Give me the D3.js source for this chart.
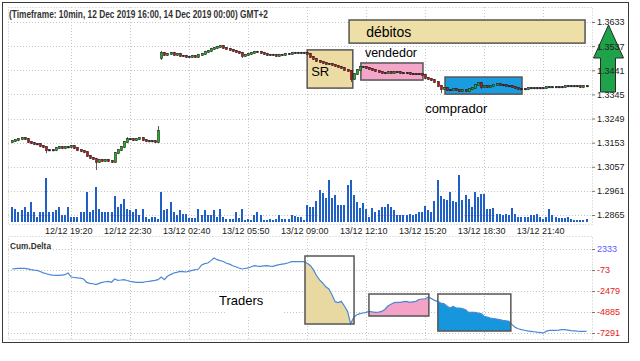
<!DOCTYPE html>
<html><head><meta charset="utf-8">
<script src="https://cdn.jsdelivr.net/npm/d3@7"></script>
<style>body{margin:0;background:#fff}svg{display:block}</style>
</head><body><svg id="c" width="640" height="361"></svg>
<script>
// ---------- DATA ----------
const titleText = "(Timeframe: 10min, 12 Dec 2019 16:00, 14 Dec 2019 00:00) GMT+2";
const timeLabels = ["12/12 19:20","12/12 22:30","13/12 02:40","13/12 05:50","13/12 09:00","13/12 12:10","13/12 15:20","13/12 18:30","13/12 21:40"];
const timeLabelBars = [19,38,57,76,95,114,133,152,171];
const priceTicks = [1.3633,1.3537,1.3441,1.3345,1.3249,1.3153,1.3057,1.2961,1.2865];
const deltaTicks = [2333,-73,-2479,-4885,-7291];

const opens = [
1.3155,1.3159,1.3163,1.3167,1.3171,1.3167,1.3155,1.3151,1.3147,1.3147,
1.3139,1.3135,1.3123,1.3123,1.3123,1.3131,1.3135,1.3131,1.3135,1.3135,
1.3139,1.3131,1.3123,1.3119,1.3115,1.3100,1.3092,1.3088,1.3076,1.3084,
1.3080,1.3084,1.3080,1.3076,1.3111,1.3123,1.3135,1.3155,1.3167,1.3167,
1.3163,1.3167,1.3171,1.3163,1.3159,1.3159,1.3159,1.3155,1.3490,1.3510,
1.3502,1.3506,1.3510,1.3502,1.3506,1.3498,1.3498,1.3494,1.3494,1.3498,
1.3494,1.3502,1.3506,1.3514,1.3518,1.3526,1.3530,1.3533,1.3537,1.3530,
1.3526,1.3522,1.3518,1.3514,1.3510,1.3498,1.3502,1.3506,1.3510,1.3514,
1.3514,1.3510,1.3506,1.3502,1.3502,1.3502,1.3498,1.3502,1.3502,1.3506,
1.3506,1.3510,1.3510,1.3510,1.3510,1.3510,1.3506,1.3494,1.3486,1.3478,
1.3474,1.3470,1.3466,1.3466,1.3462,1.3458,1.3454,1.3450,1.3442,1.3438,
1.3406,1.3426,1.3442,1.3454,1.3454,1.3450,1.3446,1.3442,1.3438,1.3434,
1.3430,1.3430,1.3434,1.3430,1.3434,1.3434,1.3430,1.3430,1.3430,1.3426,
1.3426,1.3426,1.3426,1.3422,1.3410,1.3406,1.3402,1.3394,1.3378,1.3366,
1.3370,1.3362,1.3362,1.3366,1.3362,1.3358,1.3362,1.3358,1.3366,1.3370,
1.3382,1.3390,1.3374,1.3378,1.3374,1.3378,1.3382,1.3386,1.3382,1.3382,
1.3378,1.3378,1.3374,1.3370,1.3366,1.3366,1.3366,1.3370,1.3370,1.3370,
1.3370,1.3370,1.3370,1.3374,1.3374,1.3374,1.3374,1.3374,1.3374,1.3378,
1.3378,1.3378,1.3378,1.3378,1.3374,1.3378];
const highs = [
1.3163,1.3167,1.3171,1.3175,1.3175,1.3171,1.3159,1.3155,1.3151,1.3151,
1.3143,1.3139,1.3127,1.3127,1.3135,1.3139,1.3139,1.3139,1.3139,1.3143,
1.3143,1.3135,1.3127,1.3123,1.3119,1.3104,1.3096,1.3092,1.3088,1.3088,
1.3088,1.3088,1.3084,1.3115,1.3127,1.3139,1.3159,1.3175,1.3171,1.3171,
1.3171,1.3175,1.3175,1.3167,1.3163,1.3163,1.3163,1.3219,1.3518,1.3514,
1.3510,1.3514,1.3514,1.3510,1.3510,1.3502,1.3502,1.3498,1.3502,1.3502,
1.3506,1.3510,1.3518,1.3522,1.3530,1.3533,1.3537,1.3541,1.3541,1.3533,
1.3530,1.3526,1.3522,1.3518,1.3514,1.3506,1.3510,1.3514,1.3518,1.3518,
1.3518,1.3514,1.3510,1.3506,1.3506,1.3506,1.3506,1.3506,1.3510,1.3510,
1.3514,1.3514,1.3514,1.3514,1.3514,1.3514,1.3510,1.3498,1.3490,1.3482,
1.3478,1.3474,1.3470,1.3470,1.3466,1.3462,1.3458,1.3454,1.3446,1.3442,
1.3430,1.3446,1.3458,1.3458,1.3458,1.3454,1.3450,1.3446,1.3442,1.3438,
1.3434,1.3438,1.3438,1.3438,1.3438,1.3438,1.3434,1.3434,1.3434,1.3430,
1.3430,1.3430,1.3430,1.3426,1.3414,1.3410,1.3406,1.3398,1.3382,1.3374,
1.3374,1.3366,1.3370,1.3370,1.3366,1.3366,1.3366,1.3370,1.3374,1.3386,
1.3394,1.3394,1.3382,1.3382,1.3382,1.3386,1.3390,1.3390,1.3386,1.3386,
1.3382,1.3382,1.3378,1.3374,1.3370,1.3370,1.3374,1.3374,1.3374,1.3374,
1.3374,1.3374,1.3378,1.3378,1.3378,1.3378,1.3378,1.3378,1.3382,1.3382,
1.3382,1.3382,1.3382,1.3382,1.3382,1.3382];
const lows = [
1.3151,1.3155,1.3159,1.3163,1.3163,1.3151,1.3147,1.3143,1.3143,1.3135,
1.3131,1.3111,1.3119,1.3119,1.3119,1.3127,1.3127,1.3127,1.3131,1.3131,
1.3127,1.3119,1.3115,1.3111,1.3096,1.3088,1.3084,1.3044,1.3072,1.3076,
1.3076,1.3076,1.3072,1.3072,1.3107,1.3119,1.3131,1.3151,1.3163,1.3159,
1.3159,1.3163,1.3159,1.3155,1.3155,1.3155,1.3151,1.3151,1.3482,1.3498,
1.3498,1.3502,1.3498,1.3498,1.3494,1.3494,1.3490,1.3490,1.3490,1.3490,
1.3490,1.3498,1.3502,1.3510,1.3514,1.3522,1.3526,1.3530,1.3526,1.3522,
1.3518,1.3514,1.3510,1.3506,1.3490,1.3494,1.3498,1.3502,1.3506,1.3510,
1.3506,1.3502,1.3498,1.3498,1.3498,1.3494,1.3494,1.3498,1.3498,1.3502,
1.3502,1.3506,1.3506,1.3506,1.3506,1.3502,1.3490,1.3482,1.3474,1.3470,
1.3466,1.3462,1.3462,1.3458,1.3454,1.3450,1.3446,1.3438,1.3434,1.3394,
1.3402,1.3422,1.3438,1.3450,1.3446,1.3442,1.3438,1.3434,1.3430,1.3426,
1.3426,1.3426,1.3426,1.3426,1.3430,1.3426,1.3426,1.3426,1.3422,1.3422,
1.3422,1.3422,1.3418,1.3406,1.3402,1.3398,1.3390,1.3374,1.3350,1.3362,
1.3358,1.3358,1.3358,1.3358,1.3354,1.3354,1.3354,1.3354,1.3362,1.3366,
1.3378,1.3366,1.3370,1.3370,1.3370,1.3374,1.3378,1.3378,1.3378,1.3374,
1.3374,1.3370,1.3366,1.3362,1.3362,1.3362,1.3362,1.3366,1.3366,1.3366,
1.3366,1.3366,1.3366,1.3370,1.3370,1.3370,1.3370,1.3370,1.3370,1.3374,
1.3374,1.3374,1.3374,1.3370,1.3370,1.3374];
const closes = [
1.3159,1.3163,1.3167,1.3171,1.3167,1.3155,1.3151,1.3147,1.3147,1.3139,
1.3135,1.3123,1.3123,1.3123,1.3131,1.3135,1.3131,1.3135,1.3135,1.3139,
1.3131,1.3123,1.3119,1.3115,1.3100,1.3092,1.3088,1.3076,1.3084,1.3080,
1.3084,1.3080,1.3076,1.3111,1.3123,1.3135,1.3155,1.3167,1.3167,1.3163,
1.3167,1.3171,1.3163,1.3159,1.3159,1.3159,1.3155,1.3199,1.3510,1.3502,
1.3506,1.3510,1.3502,1.3506,1.3498,1.3498,1.3494,1.3494,1.3498,1.3494,
1.3502,1.3506,1.3514,1.3518,1.3526,1.3530,1.3533,1.3537,1.3530,1.3526,
1.3522,1.3518,1.3514,1.3510,1.3498,1.3502,1.3506,1.3510,1.3514,1.3514,
1.3510,1.3506,1.3502,1.3502,1.3502,1.3498,1.3502,1.3502,1.3506,1.3506,
1.3510,1.3510,1.3510,1.3510,1.3510,1.3506,1.3494,1.3486,1.3478,1.3474,
1.3470,1.3466,1.3466,1.3462,1.3458,1.3454,1.3450,1.3442,1.3438,1.3406,
1.3426,1.3442,1.3454,1.3454,1.3450,1.3446,1.3442,1.3438,1.3434,1.3430,
1.3430,1.3434,1.3430,1.3434,1.3434,1.3430,1.3430,1.3430,1.3426,1.3426,
1.3426,1.3426,1.3422,1.3410,1.3406,1.3402,1.3394,1.3378,1.3366,1.3370,
1.3362,1.3362,1.3366,1.3362,1.3358,1.3362,1.3358,1.3366,1.3370,1.3382,
1.3390,1.3374,1.3378,1.3374,1.3378,1.3382,1.3386,1.3382,1.3382,1.3378,
1.3378,1.3374,1.3370,1.3366,1.3366,1.3366,1.3370,1.3370,1.3370,1.3370,
1.3370,1.3370,1.3374,1.3374,1.3374,1.3374,1.3374,1.3374,1.3378,1.3378,
1.3378,1.3378,1.3378,1.3374,1.3378,1.3378];
const volumes = [
300,260,200,240,300,200,400,200,100,200,
200,880,200,200,240,300,140,140,300,100,
100,100,200,200,600,200,240,700,260,200,
200,200,200,520,300,360,460,260,240,200,
260,140,260,100,60,100,100,60,600,240,
260,400,200,140,240,160,160,80,80,80,
260,140,240,140,140,240,100,260,100,60,
60,60,200,80,260,40,60,40,140,200,
140,40,40,60,40,60,140,60,60,60,
140,120,100,100,40,340,300,300,420,640,
580,480,840,480,540,340,340,340,740,840,
540,400,280,380,260,100,280,200,240,300,
300,360,300,240,140,140,140,140,160,140,
160,200,200,320,240,200,420,840,520,460,
440,600,420,400,940,440,540,460,300,600,
500,560,560,260,260,280,160,160,140,160,
140,280,160,100,100,100,100,140,140,160,
100,60,100,260,140,100,80,80,80,100,
60,40,40,40,40,60];
const cumDelta = [
40,80,118,120,118,60,-35,-80,-111,-250,
-400,-500,-600,-650,-680,-690,-650,-608,-420,-875,
-930,-980,-1000,-1104,-1490,-1600,-1650,-1750,-1600,-1490,
-1420,-1370,-1480,-1110,-1250,-1220,-1180,-1280,-1370,-1430,
-1490,-1490,-1480,-1420,-1370,-1310,-1257,-1180,-875,-1180,
-800,-600,-420,-350,-230,-260,-300,-200,-110,-40,
42,500,650,730,1000,1300,1110,1000,900,700,
600,420,300,150,42,100,160,300,424,380,
347,400,424,380,347,450,538,600,653,760,
880,882,882,880,882,700,450,-35,-700,-1200,
-1562,-2000,-2249,-2899,-3700,-3800,-3663,-4200,-4808,-6221,
-5500,-5200,-5076,-5000,-4923,-4808,-4880,-4920,-4900,-4808,
-4600,-4200,-4000,-3820,-3777,-3777,-3700,-3663,-3777,-3720,
-3663,-3450,-3396,-3396,-3166,-3350,-3550,-3663,-3854,-3930,
-4200,-4426,-4235,-4426,-4426,-4500,-4617,-4923,-4923,-4923,
-5000,-5076,-5381,-5480,-5572,-5630,-5687,-5760,-5840,-5900,
-5954,-6336,-6650,-6800,-6909,-6980,-7050,-7100,-7150,-7200,
-7214,-7291,-7100,-6985,-6985,-6985,-6960,-6909,-6909,-6960,
-7023,-7050,-7080,-7100,-7100,-7100];

// annotation objects (bar index range, value range)
const priceBoxes = [
  {name:"débitos", b0:108.5, b1:184.5, top:1.3641, bot:1.3549, fill:"#eddfa6"},
  {name:"SR",      b0:95.0,  b1:109.7, top:1.3522, bot:1.3370, fill:"#eddba4"},
  {name:"vendedor",b0:112.3, b1:132.3, top:1.3470, bot:1.3402, fill:"#f4a6c9"},
  {name:"comprador",b0:139.4,b1:164.2, top:1.3414, bot:1.3346, fill:"#1a9ce0"}
];
const priceTexts = [
  {t:"débitos",  b:114.0, v:1.3574, size:14},
  {t:"SR",       b:96.3,  v:1.3417, size:13},
  {t:"vendedor", b:113.6, v:1.3494, size:12.5},
  {t:"comprador",b:133.0, v:1.3269, size:13}
];
const deltaBoxes = [
  {b0:94.3,  b1:110.1, top:1531,  bot:-6262, fill:"#e8d8a2"},
  {b0:114.9, b1:134.2, top:-2824, bot:-5345, fill:"#f4a3c7"},
  {b0:137.1, b1:160.6, top:-2824, bot:-7064, fill:"#1696dc"}
];
const deltaTexts = [{t:"Traders", b:66.6, v:-4040, size:13}];

// ---------- DRAW ----------
const svg = d3.select("#c");
const FONT = "'Liberation Sans', Arial, sans-serif";
const x  = d3.scaleLinear().domain([0,185]).range([12.2,586.6]);
const yP = d3.scaleLinear().domain([1.2865,1.3633]).range([215,22]);
const yV = d3.scaleLinear().domain([0,1000]).range([222,172]);
const yD = d3.scaleLinear().domain([-7291,2333]).range([333,249]);
const L = 8, R = 592;
const panels = [{top:7,bot:224},{top:236,bot:339}];
const gridC = "#c6c6c6", dash = "1,2";

svg.append("rect").attr("x",2.5).attr("y",2.5).attr("width",626).attr("height",340)
  .attr("fill","#fff").attr("stroke","#3a3a3a");

panels.forEach(p=>{
  svg.append("rect").attr("x",L+.5).attr("y",p.top+.5).attr("width",R-L).attr("height",p.bot-p.top)
    .attr("fill","none").attr("stroke",gridC).attr("stroke-dasharray",dash);
  timeLabelBars.forEach(b=>{
    const xx = Math.round(x(b))+.5;
    svg.append("line").attr("x1",xx).attr("x2",xx).attr("y1",p.top).attr("y2",p.bot)
      .attr("stroke",gridC).attr("stroke-dasharray",dash);
  });
});
priceTicks.forEach(v=>{
  const yy = Math.round(yP(v))+.5;
  svg.append("line").attr("x1",L).attr("x2",R).attr("y1",yy).attr("y2",yy)
    .attr("stroke",gridC).attr("stroke-dasharray",dash);
});
deltaTicks.forEach(v=>{
  const yy = Math.round(yD(v))+.5;
  svg.append("line").attr("x1",L).attr("x2",R).attr("y1",yy).attr("y2",yy)
    .attr("stroke",gridC).attr("stroke-dasharray",dash);
});

// title and panel label
svg.append("text").attr("x",9).attr("y",18).text(titleText)
  .attr("font-family",FONT).attr("font-size",10).attr("font-weight","bold").attr("fill","#333")
  .attr("textLength",259).attr("lengthAdjust","spacingAndGlyphs");
svg.append("text").attr("x",10).attr("y",249).text("Cum.Delta")
  .attr("font-family",FONT).attr("font-size",9).attr("font-weight","bold").attr("fill","#333")
  .attr("textLength",41).attr("lengthAdjust","spacingAndGlyphs");

// price boxes (under candles)
priceBoxes.forEach(b=>{
  svg.append("rect").attr("x",x(b.b0)).attr("y",yP(b.top))
    .attr("width",x(b.b1)-x(b.b0)).attr("height",yP(b.bot)-yP(b.top))
    .attr("fill",b.fill).attr("stroke","#555").attr("stroke-width",1.5);
});

// volume bars
svg.append("g").selectAll("rect").data(volumes).join("rect")
  .attr("x",(d,i)=>Math.round(x(i))-1).attr("width",2)
  .attr("y",d=>yV(d)).attr("height",d=>yV(0)-yV(d)).attr("fill","#1f5fc6");

// candles
const cg = svg.append("g");
closes.forEach((c,i)=>{
  const o = opens[i], xx = Math.round(x(i));
  cg.append("line").attr("x1",xx+.5).attr("x2",xx+.5).attr("y1",yP(highs[i])).attr("y2",yP(lows[i]))
    .attr("stroke","#333").attr("stroke-width",0.8);
  const top = yP(Math.max(o,c)), bot = yP(Math.min(o,c));
  const col = c>o ? "#1cb41c" : (c<o ? "#cf1010" : "#222");
  cg.append("rect").attr("x",xx-0.5).attr("width",2).attr("y",top-0.5).attr("height",Math.max(1.2,bot-top+1))
    .attr("fill",col).attr("stroke","#222").attr("stroke-width",0.6);
});

// price annotation texts
priceTexts.forEach(t=>{
  svg.append("text").attr("x",x(t.b)).attr("y",yP(t.v)).text(t.t)
    .attr("font-family",FONT).attr("font-size",t.size).attr("fill","#000");
});

// delta areas and boxes
const defs = svg.append("defs");
deltaBoxes.forEach((b,k)=>{
  const id = "clip"+k;
  defs.append("clipPath").attr("id",id).append("rect")
    .attr("x",x(b.b0)).attr("y",yD(b.top)).attr("width",x(b.b1)-x(b.b0)).attr("height",yD(b.bot)-yD(b.top));
  const area = d3.area().x((d,i)=>x(i)).y0(yD(b.bot)).y1(d=>yD(d));
  svg.append("path").attr("d",area(cumDelta)).attr("fill",b.fill).attr("clip-path",`url(#${id})`);
});
svg.append("path").attr("d",d3.line().x((d,i)=>x(i)).y(d=>yD(d))(cumDelta))
  .attr("fill","none").attr("stroke","#4a88d6").attr("stroke-width",1.2);
deltaBoxes.forEach(b=>{
  svg.append("rect").attr("x",x(b.b0)).attr("y",yD(b.top))
    .attr("width",x(b.b1)-x(b.b0)).attr("height",yD(b.bot)-yD(b.top))
    .attr("fill","none").attr("stroke","#555").attr("stroke-width",1.5);
});
deltaTexts.forEach(t=>{
  svg.append("rect").attr("x",x(t.b)+6).attr("y",yD(t.v)-12).attr("width",57).attr("height",22).attr("fill","#fff");
  svg.append("text").attr("x",x(t.b)).attr("y",yD(t.v)).text(t.t)
    .attr("font-family",FONT).attr("font-size",t.size).attr("fill","#000");
});

// green up arrow
svg.append("path").attr("d","M608.5,25 L623.5,58 L615.5,58 L615.5,92 L600.5,92 L600.5,58 L593.5,58 Z")
  .attr("fill","#1ea34a").attr("stroke","#2a2a2a").attr("stroke-width",1);

// axes
const pAx = svg.append("g").attr("transform",`translate(${R},0)`)
  .call(d3.axisRight(yP).tickValues(priceTicks).tickSize(3).tickPadding(2).tickFormat(d=>d.toFixed(4)));
pAx.select(".domain").remove();
pAx.selectAll("line").attr("stroke","#777");
pAx.selectAll("text").attr("font-family",FONT).attr("font-size",9).attr("fill","#222");

const dAx = svg.append("g").attr("transform",`translate(${R},0)`)
  .call(d3.axisRight(yD).tickValues(deltaTicks).tickSize(3).tickPadding(2).tickFormat(d=>String(d)));
dAx.select(".domain").remove();
dAx.selectAll("line").attr("stroke","#777");
dAx.selectAll("text").attr("font-family",FONT).attr("font-size",9).attr("fill",d=>d>0?"#5a5aff":"#e82020");

const xAx = svg.append("g").attr("transform","translate(0,224)")
  .call(d3.axisBottom(x).tickValues(timeLabelBars).tickSize(0).tickPadding(4).tickFormat((d,i)=>timeLabels[i]));
xAx.select(".domain").remove();
xAx.selectAll("text").attr("font-family",FONT).attr("font-size",9).attr("fill","#222").attr("dx",-3);
</script></body></html>
